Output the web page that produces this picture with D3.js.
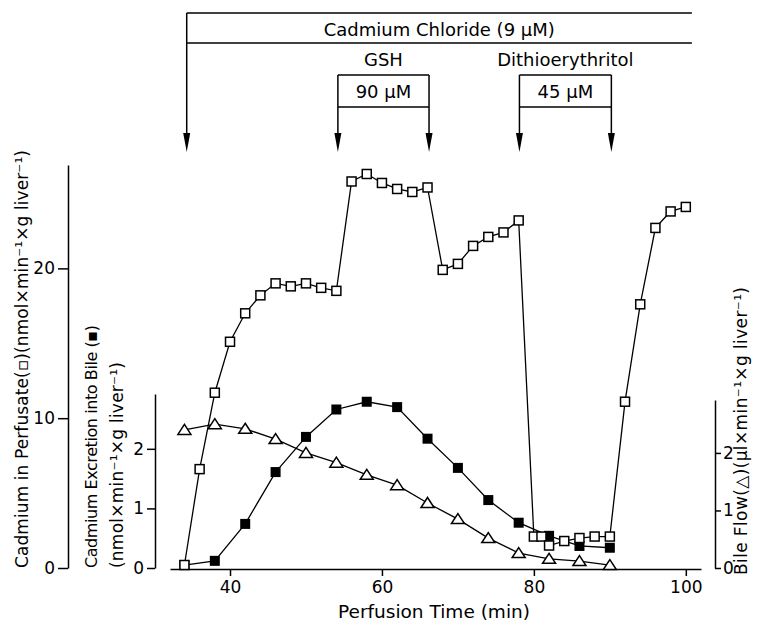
<!DOCTYPE html>
<meta charset="utf-8">
<script src="https://d3js.org/d3.v7.min.js"></script>
<style>
  body { margin: 0; background: #fff; }
  text { font-family: "DejaVu Sans", sans-serif; fill: #000; }
</style>

<!-- Create a div where the graph will take place -->
<div id="my_dataviz"></div>
<script>

  // perfusion times (min)
  var perfTime = [34, 36, 38, 40, 42, 44, 46, 48, 50, 52, 54, 56, 58, 60, 62, 64, 66, 68, 70, 72,
    74, 76, 78, 80, 81, 82, 84, 86, 88, 90, 92, 94, 96, 98, 100];
  // cadmium in perfusate (open squares)
  var perfCd = [0.2, 6.6, 11.7, 15.1, 17.0, 18.2, 19.0, 18.8, 19.0, 18.7, 18.5, 25.8, 26.3, 25.7, 25.3, 25.1,
    25.4, 19.9, 20.3, 21.5, 22.1, 22.4, 23.2, 2.1, 2.1, 1.5, 1.8, 2.0, 2.1, 2.1, 11.1, 17.6, 22.7, 23.8, 24.1];

  // bile samples
  var bileTime = [34, 38, 42, 46, 50, 54, 58, 62, 66, 70, 74, 78, 82, 86, 90];
  // cadmium excretion into bile (filled squares)
  var bileCd = [0.05, 0.12, 0.74, 1.61, 2.20, 2.66, 2.79, 2.70, 2.17, 1.68, 1.14, 0.76, 0.54, 0.37, 0.34];
  // bile flow (triangles)
  var bileFlow = [2.40, 2.50, 2.42, 2.24, 2.00, 1.83, 1.62, 1.44, 1.13, 0.85, 0.52, 0.26, 0.16, 0.12, 0.05];

  // infusion periods (min)
  var cdPeriod = [34.3, 100.8];
  var gshPeriod = [54.2, 66.2];
  var dtePeriod = [78.1, 90.2];

  var xTicks = [40, 60, 80, 100];
  var perfTicks = [0, 10, 20];
  var bileTicks = [0, 1, 2];
  var flowTicks = [0, 1, 2];

  var svg = d3.select("#my_dataviz")
    .append("svg")
    .attr("width", 759)
    .attr("height", 627);

  var x = d3.scaleLinear().domain([32.1, 102]).range([170, 701]),
    yPerf = d3.scaleLinear().domain([0, 26.9]).range([568, 165]),
    yBile = d3.scaleLinear().domain([0, 2.92]).range([568, 394]),
    yFlow = d3.scaleLinear().domain([0, 2.92]).range([568, 400]);

  var fmt = d3.format("d");

  function styleAxis(g) {
    g.selectAll("path, line").attr("stroke", "#000").attr("stroke-width", 1.5);
    g.selectAll("text").attr("font-size", 17).attr("font-family", "DejaVu Sans, sans-serif").attr("fill", "#000");
  }

  // X axis
  svg.append("g")
    .attr("transform", "translate(0,569)")
    .call(d3.axisBottom(x).tickValues(xTicks).tickFormat(fmt).tickSize(7).tickSizeOuter(0).tickPadding(5))
    .call(styleAxis);

  // left axis: perfusate
  svg.append("g")
    .attr("transform", "translate(68,0)")
    .call(d3.axisLeft(yPerf).tickValues(perfTicks).tickFormat(fmt).tickSize(10).tickSizeOuter(0).tickPadding(3))
    .call(styleAxis);

  // second left axis: bile excretion
  svg.append("g")
    .attr("transform", "translate(155,0)")
    .call(d3.axisLeft(yBile).tickValues(bileTicks).tickFormat(fmt).tickSize(8).tickSizeOuter(0).tickPadding(3))
    .call(styleAxis);

  // right axis: bile flow
  svg.append("g")
    .attr("transform", "translate(715,0)")
    .call(d3.axisRight(yFlow).tickValues(flowTicks).tickFormat(fmt).tickSize(6).tickSizeOuter(0).tickPadding(2))
    .call(styleAxis);

  // axis titles
  svg.append("text")
    .attr("x", 434).attr("y", 618)
    .attr("text-anchor", "middle").attr("font-size", 18)
    .attr("textLength", 192).attr("lengthAdjust", "spacingAndGlyphs")
    .text("Perfusion Time (min)");

  // rotated label, starting at the bottom (yStart) and running upward over len px
  function vLabel(cx, yStart, len, size, str) {
    svg.append("text")
      .attr("transform", "translate(" + cx + "," + yStart + ") rotate(-90)")
      .attr("text-anchor", "start").attr("dy", "0.35em").attr("font-size", size)
      .attr("textLength", len).attr("lengthAdjust", "spacing")
      .text(str);
  }
  vLabel(22, 568, 418, 17, "Cadmium in Perfusate(\u25AB)(nmol\u00D7min\u207B\u00B9\u00D7g liver\u207B\u00B9)");
  vLabel(91, 568, 243, 16, "Cadmium Excretion into Bile (\u25AA)");
  vLabel(117, 568, 206, 17, "(nmol\u00D7min\u207B\u00B9\u00D7g liver\u207B\u00B9)");
  vLabel(741, 575, 288, 17, "Bile Flow(\u25B3)(\u03BCl\u00D7min\u207B\u00B9\u00D7g liver\u207B\u00B9)");

  var perfData = perfTime.map(function (t, i) { return { t: t, v: perfCd[i] }; });
  var bileData = bileTime.map(function (t, i) { return { t: t, cd: bileCd[i], flow: bileFlow[i] }; });

  // bile flow line + triangles
  svg.append("path")
    .datum(bileData)
    .attr("fill", "none").attr("stroke", "#000").attr("stroke-width", 1.3)
    .attr("d", d3.line().x(function (d) { return x(d.t); }).y(function (d) { return yFlow(d.flow); }));
  svg.selectAll(".tri")
    .data(bileData).enter().append("path")
    .attr("transform", function (d) { return "translate(" + x(d.t) + "," + yFlow(d.flow) + ")"; })
    .attr("d", "M0,-5.5L6.5,4.5L-6.5,4.5Z")
    .attr("fill", "#fff").attr("stroke", "#000").attr("stroke-width", 1.5);

  // cadmium in bile line + filled squares
  svg.append("path")
    .datum(bileData)
    .attr("fill", "none").attr("stroke", "#000").attr("stroke-width", 1.3)
    .attr("d", d3.line().x(function (d) { return x(d.t); }).y(function (d) { return yBile(d.cd); }));
  svg.selectAll(".fsq")
    .data(bileData).enter().append("rect")
    .attr("x", function (d) { return x(d.t) - 5; })
    .attr("y", function (d) { return yBile(d.cd) - 5; })
    .attr("width", 10).attr("height", 10)
    .attr("fill", "#000");

  // perfusate line + open squares
  svg.append("path")
    .datum(perfData)
    .attr("fill", "none").attr("stroke", "#000").attr("stroke-width", 1.3)
    .attr("d", d3.line().x(function (d) { return x(d.t); }).y(function (d) { return yPerf(d.v); }));
  svg.selectAll(".osq")
    .data(perfData).enter().append("rect")
    .attr("x", function (d) { return x(d.t) - 4.5; })
    .attr("y", function (d) { return yPerf(d.v) - 4.5; })
    .attr("width", 9).attr("height", 9)
    .attr("fill", "#fff").attr("stroke", "#000").attr("stroke-width", 1.5);

  // infusion annotations
  function arrow(xp, yTop) {
    svg.append("line")
      .attr("x1", xp).attr("x2", xp).attr("y1", yTop).attr("y2", 136)
      .attr("stroke", "#000").attr("stroke-width", 1.5);
    svg.append("path")
      .attr("d", "M" + (xp - 3.5) + ",133L" + (xp + 3.5) + ",133L" + xp + ",152Z")
      .attr("fill", "#000");
  }
  function hline(x1, x2, yp) {
    svg.append("line")
      .attr("x1", x1).attr("x2", x2).attr("y1", yp).attr("y2", yp)
      .attr("stroke", "#000").attr("stroke-width", 1.5);
  }

  // cadmium chloride
  hline(x(cdPeriod[0]), x(cdPeriod[1]), 13);
  hline(x(cdPeriod[0]), x(cdPeriod[1]), 43);
  arrow(x(cdPeriod[0]), 13);
  svg.append("text")
    .attr("x", (x(cdPeriod[0]) + x(cdPeriod[1])) / 2).attr("y", 36)
    .attr("text-anchor", "middle").attr("font-size", 18)
    .text("Cadmium Chloride (9 \u03BCM)");

  function dose(period, name, conc) {
    var x1 = x(period[0]), x2 = x(period[1]);
    hline(x1, x2, 75);
    hline(x1, x2, 107);
    arrow(x1, 75);
    arrow(x2, 75);
    svg.append("text")
      .attr("x", (x1 + x2) / 2).attr("y", 66)
      .attr("text-anchor", "middle").attr("font-size", 18)
      .text(name);
    svg.append("text")
      .attr("x", (x1 + x2) / 2).attr("y", 98)
      .attr("text-anchor", "middle").attr("font-size", 18)
      .text(conc);
  }
  dose(gshPeriod, "GSH", "90 \u03BCM");
  dose(dtePeriod, "Dithioerythritol", "45 \u03BCM");

</script>
